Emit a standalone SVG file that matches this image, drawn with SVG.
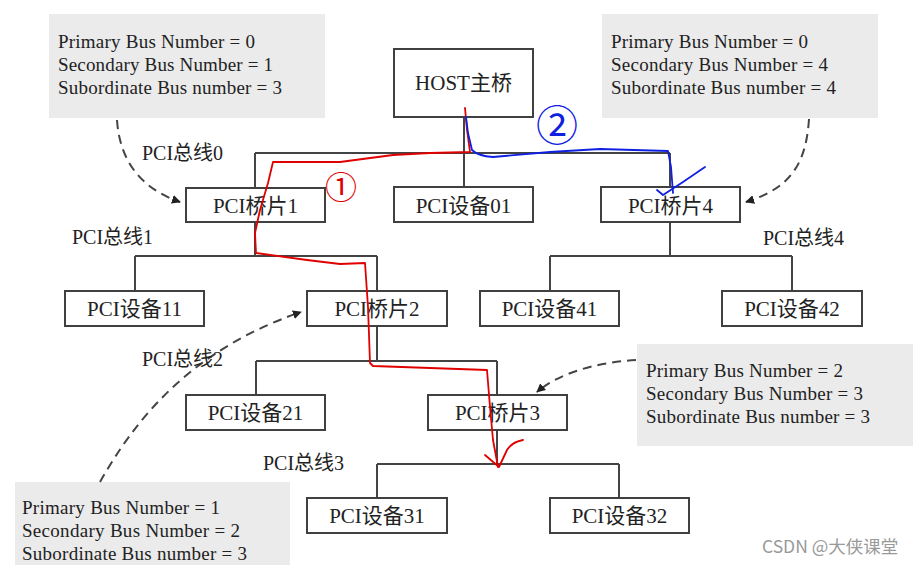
<svg xmlns="http://www.w3.org/2000/svg" width="913" height="565" viewBox="0 0 913 565">
<style>
.box{fill:#fff;stroke:#404040;stroke-width:2}
.info{fill:#ebebeb}
.lbl{font-family:"Liberation Serif","Noto Sans CJK SC",serif;font-size:21px;fill:#222;text-anchor:middle}
.bus{font-family:"Liberation Serif","Noto Sans CJK SC",serif;font-size:20px;fill:#222}
.it{font-family:"Liberation Serif",serif;font-size:19px;fill:#222}
.wire{fill:none;stroke:#444;stroke-width:2}
.dash{fill:none;stroke:#444;stroke-width:2;stroke-dasharray:9 6}
.red{fill:none;stroke:#e00000;stroke-width:1.8;stroke-linecap:round;stroke-linejoin:round}
.blue{fill:none;stroke:#1020e0;stroke-width:1.8;stroke-linecap:round;stroke-linejoin:round}
</style>
<defs>
<marker id="ah" viewBox="0 0 10 10" refX="9" refY="5" markerWidth="9" markerHeight="9" markerUnits="userSpaceOnUse" orient="auto">
<path d="M0,0 L10,5 L0,10 z" fill="#222"/>
</marker>
</defs>
<rect width="913" height="565" fill="#fff"/>

<g id="info-bridge1">
<rect class="info" x="49" y="14" width="276" height="104"/>
<text class="it" x="58" y="48" textLength="197">Primary Bus Number = 0</text>
<text class="it" x="58" y="71" textLength="215">Secondary Bus Number = 1</text>
<text class="it" x="58" y="94" textLength="224">Subordinate Bus number = 3</text>
</g>
<g id="info-bridge4">
<rect class="info" x="602" y="14" width="276" height="104"/>
<text class="it" x="611" y="48" textLength="197">Primary Bus Number = 0</text>
<text class="it" x="611" y="71" textLength="217">Secondary Bus Number = 4</text>
<text class="it" x="611" y="94" textLength="225">Subordinate Bus number = 4</text>
</g>
<g id="info-bridge3">
<rect class="info" x="637" y="344" width="276" height="102"/>
<text class="it" x="646" y="377" textLength="197">Primary Bus Number = 2</text>
<text class="it" x="646" y="400" textLength="217">Secondary Bus Number = 3</text>
<text class="it" x="646" y="423" textLength="224">Subordinate Bus number = 3</text>
</g>
<g id="info-bridge2">
<rect class="info" x="15" y="482" width="275" height="90"/>
<text class="it" x="22" y="514" textLength="198">Primary Bus Number = 1</text>
<text class="it" x="22" y="537" textLength="218">Secondary Bus Number = 2</text>
<text class="it" x="22" y="560" textLength="225">Subordinate Bus number = 3</text>
</g>

<g id="connectors">
<path class="wire" d="M464,117 V153 M255,153 H670 M255,153 V188 M464,153 V187 M670,153 V187"/>
<path class="wire" d="M255,222 V256 M135,256 H377 M135,256 V291 M377,256 V291"/>
<path class="wire" d="M670,222 V256 M550,256 H792 M550,256 V291 M792,256 V291"/>
<path class="wire" d="M377,326 V361 M256,361 H497 M256,361 V395 M497,361 V395"/>
<path class="wire" d="M497,430 V464 M377,464 H619 M377,464 V498 M619,464 V498"/>
<path class="dash" d="M117,120 C120,165 145,190 180,202" marker-end="url(#ah)"/>
<path class="dash" d="M809,119 C806,165 790,188 746,202" marker-end="url(#ah)"/>
<path class="dash" d="M636,360 C600,362 560,372 537,392" marker-end="url(#ah)"/>
<path class="dash" d="M100,482 C135,420 190,350 301,312" marker-end="url(#ah)"/>
</g>

<g id="bus-labels">
<text class="bus" x="142" y="160">PCI总线0</text>
<text class="bus" x="72" y="244">PCI总线1</text>
<text class="bus" x="763" y="245">PCI总线4</text>
<text class="bus" x="142" y="366">PCI总线2</text>
<text class="bus" x="263" y="470">PCI总线3</text>
</g>

<g id="host"><rect class="box" x="394" y="49" width="139" height="68"/><text class="lbl" x="463.5" y="90">HOST主桥</text></g>
<g id="bridge1"><rect class="box" x="186" y="188" width="139" height="34"/><text class="lbl" x="255.5" y="213">PCI桥片1</text></g>
<g id="dev01"><rect class="box" x="394" y="187" width="139" height="35"/><text class="lbl" x="463.5" y="213">PCI设备01</text></g>
<g id="bridge4"><rect class="box" x="601" y="187" width="139" height="35"/><text class="lbl" x="670.5" y="213">PCI桥片4</text></g>
<g id="dev11"><rect class="box" x="65" y="291" width="139" height="35"/><text class="lbl" x="134.5" y="316">PCI设备11</text></g>
<g id="bridge2"><rect class="box" x="307" y="291" width="140" height="35"/><text class="lbl" x="377" y="316">PCI桥片2</text></g>
<g id="dev41"><rect class="box" x="480" y="291" width="139" height="35"/><text class="lbl" x="549.5" y="316">PCI设备41</text></g>
<g id="dev42"><rect class="box" x="722" y="291" width="140" height="35"/><text class="lbl" x="792" y="316">PCI设备42</text></g>
<g id="dev21"><rect class="box" x="186" y="395" width="139" height="35"/><text class="lbl" x="255.5" y="420">PCI设备21</text></g>
<g id="bridge3"><rect class="box" x="428" y="395" width="139" height="35"/><text class="lbl" x="497.5" y="420">PCI桥片3</text></g>
<g id="dev31"><rect class="box" x="307" y="498" width="140" height="35"/><text class="lbl" x="377" y="523">PCI设备31</text></g>
<g id="dev32"><rect class="box" x="550" y="498" width="139" height="35"/><text class="lbl" x="619.5" y="523">PCI设备32</text></g>

<g id="annotations">
<path class="red" d="M465,108 L467,130 L470,152 L430,153 L393,155 L340,162 L273,162 L268,183 L260,210 L255,233 L256,253 L307,260 L340,264 L365,263 L368,307 L370,363 L373,366 L430,368 L487,370 L490,407 L493,440 L498,467"/>
<path class="red" d="M485,455 L499,467 L507,450 Q512,442 523,440"/>
<text x="341" y="199" font-family="'Noto Sans CJK SC',sans-serif" font-size="32" fill="#e00000" text-anchor="middle">①</text>
<path class="blue" d="M466,117 L468,133 L472,150 Q478,156 493,157 L550,152 L600,149 L668,151 L671,167 L673,193"/>
<path class="blue" d="M657,190 L663,195 L683,182 L705,167"/>
<text x="557" y="141" font-family="'Noto Sans CJK SC',sans-serif" font-size="42" fill="#1020e0" text-anchor="middle">②</text>
<text x="762" y="553" font-family="'Noto Sans CJK SC','Noto Sans',sans-serif" font-size="17.5" fill="#999">CSDN @大侠课堂</text>
</g>
</svg>
